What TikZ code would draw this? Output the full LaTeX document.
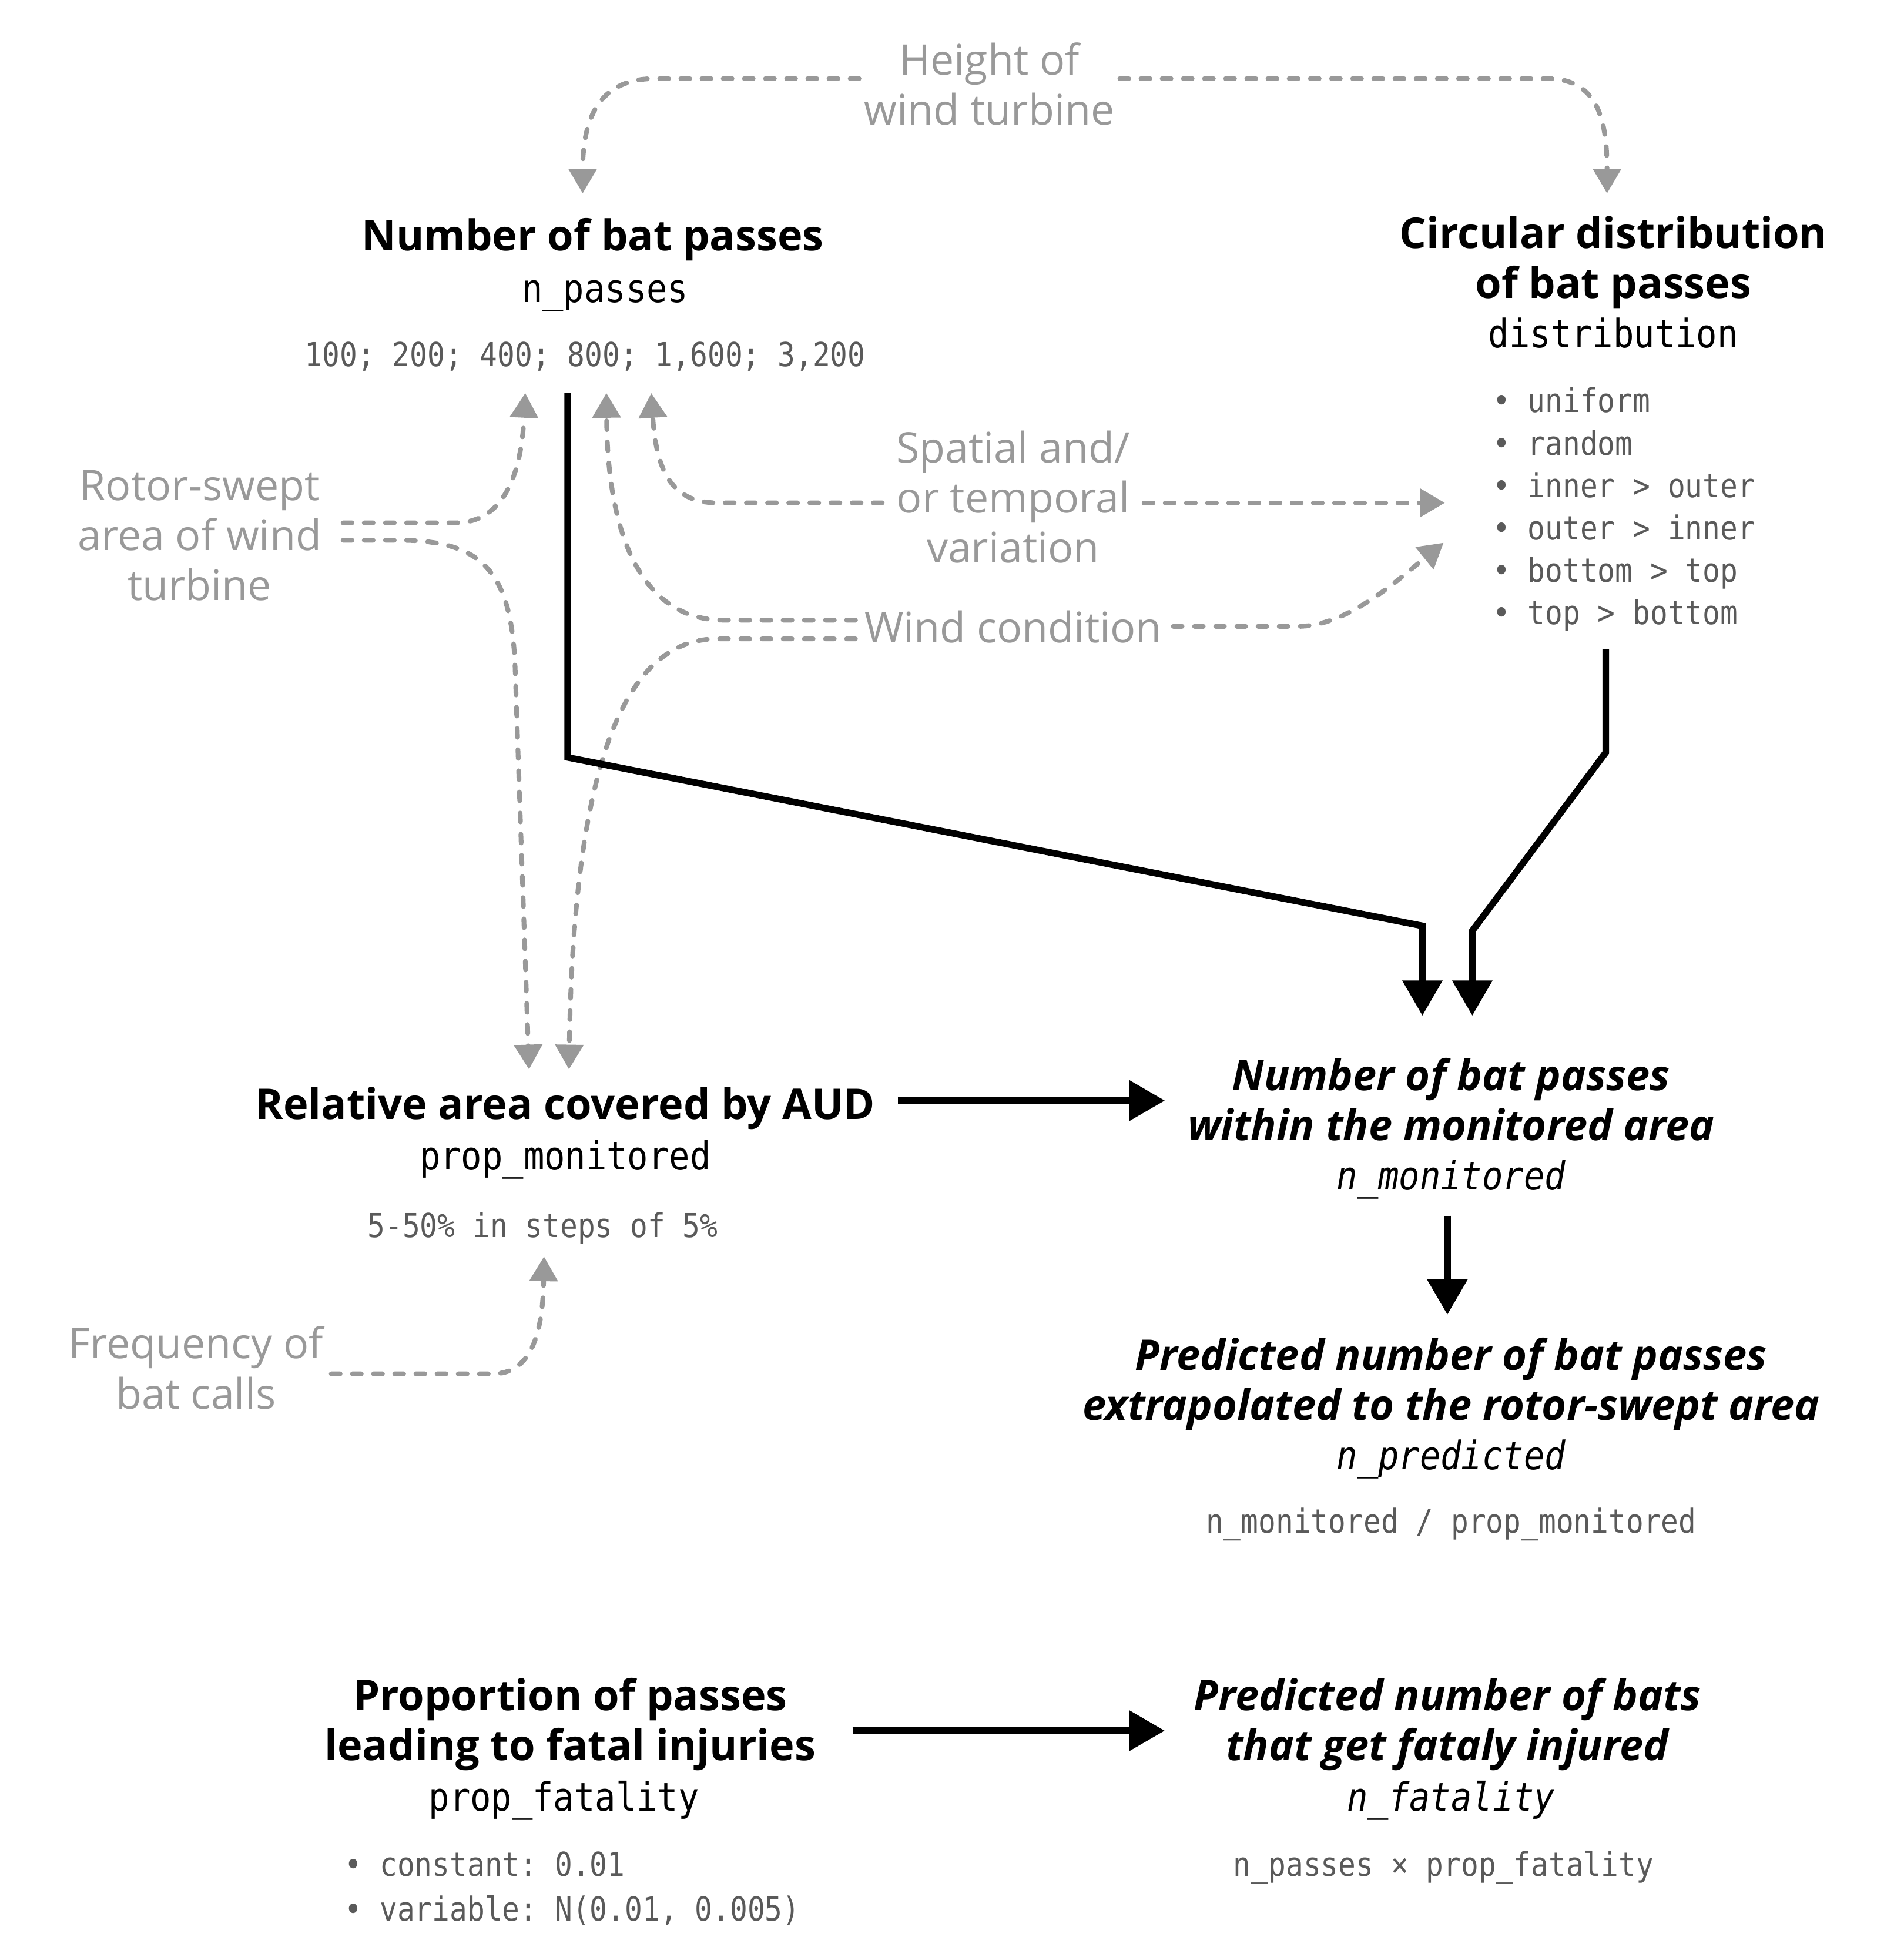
\documentclass[tikz,border=0pt]{standalone}
\usepackage{fontspec}
\setmainfont{Open Sans}
\setmonofont[FakeStretch=0.88]{DejaVu Sans Mono}
\usetikzlibrary{arrows.meta,calc}

\definecolor{facgrey}{HTML}{999999}
\definecolor{valgrey}{HTML}{5A5A5A}

\tikzset{
  ttl/.style={font=\fontsize{20.5}{24.2}\selectfont\bfseries, align=center, inner sep=0pt, text depth=0pt},
  outc/.style={font=\fontsize{20.5}{24.2}\selectfont\bfseries\itshape, align=center, inner sep=0pt, text depth=0pt},
  var/.style={font=\fontsize{19}{23}\selectfont\ttfamily, inner sep=0pt, anchor=mid, yshift=-0.13cm},
  ovar/.style={font=\fontsize{19}{23}\selectfont\ttfamily\itshape, inner sep=0pt, anchor=mid, yshift=-0.13cm},
  vals/.style={font=\fontsize{16}{20.5}\selectfont\ttfamily, text=valgrey, inner sep=0pt, anchor=mid, yshift=-0.11cm},
  fac/.style={font=\fontsize{20.4}{24.2}\selectfont, text=facgrey, align=center, inner sep=0pt, text depth=0pt},
  dep/.style={draw=facgrey, line width=2.3pt, line cap=round, dash pattern=on 0.15cm off 0.21cm,
    -{Triangle[width=0.47cm,length=0.42cm]}},
  flow/.style={draw=black, line width=3.2pt, -{Triangle[width=0.66cm,length=0.6cm]}},
}

\begin{document}
\begin{tikzpicture}[x=0.0212319cm, y=-0.0212319cm]
    \useasboundingbox (0,0) rectangle (1526,1568.4);

    % influencing factors
    \node[fac] (height) at (793,67) {Height of\\wind turbine};
    \node[fac] (rotor) at (160,429) {Rotor-swept\\area of wind\\turbine};
    \node[fac] (spatial) at (812,398) {Spatial and/\\or temporal\\variation};
    \node[fac] (wind) at (812,502) {Wind condition};
    \node[fac] (freq) at (157,1096) {Frequency of\\bat calls};

    % number of passes
    \node[ttl] (npass-ttl) at (475,188) {Number of bat passes};
    \node[var] (npass-var) at (485,232) {n\_passes};
    \node[vals] (npass-val) at (469,284) {100; 200; 400; 800; 1,600; 3,200};

    % distribution
    \node[ttl] (dist-ttl) at (1293,206) {Circular distribution\\of bat passes};
    \node[var] (dist-var) at (1293,268) {distribution};
    \foreach \opt [count=\i] in {uniform, random, inner > outer, outer > inner, bottom > top, top > bottom}
        \node[vals, anchor=mid west] (dist-\i) at (1196,{321+(\i-1)*34}) {• \opt};

    % monitored area
    \node[ttl] (rel-ttl) at (453,884) {Relative area covered by AUD};
    \node[var] (rel-var) at (453,927) {prop\_monitored};
    \node[vals] (rel-val) at (435,982) {5-50\% in steps of 5\%};

    \node[outc] (mon-ttl) at (1163,881) {Number of bat passes\\within the monitored area};
    \node[ovar] (mon-var) at (1163,943) {n\_monitored};

    \node[outc] (pred-ttl) at (1163,1105) {Predicted number of bat passes\\extrapolated to the rotor-swept area};
    \node[ovar] (pred-var) at (1163,1167) {n\_predicted};
    \node[vals] (pred-val) at (1163,1219) {n\_monitored / prop\_monitored};

    % fatalities
    \node[ttl] (prop-ttl) at (457,1378) {Proportion of passes\\leading to fatal injuries};
    \node[var] (prop-var) at (452,1441) {prop\_fatality};
    \node[vals, anchor=mid west] (prop-val1) at (276,1494) {• constant: 0.01};
    \node[vals, anchor=mid west] (prop-val2) at (276,1530) {• variable: N(0.01, 0.005)};

    \node[outc] (fat-ttl) at (1160,1378) {Predicted number of bats\\that get fataly injured};
    \node[ovar] (fat-var) at (1163,1441) {n\_fatality};
    \node[vals] (fat-val) at (1157,1494) {n\_passes × prop\_fatality};

    % arrow ends
    \coordinate (npass-top) at (467,155);
    \coordinate (dist-top) at (1288,155);
    \coordinate (npass-in1) at (421,315);
    \coordinate (npass-in2) at (486,315);
    \coordinate (npass-in3) at (522,315);
    \coordinate (dist-in1) at (1158,403);
    \coordinate (dist-in2) at (1157,435);
    \coordinate (rel-in1) at (424,857);
    \coordinate (rel-in2) at (456,857);
    \coordinate (relval-in) at (436,1007);
    \coordinate (npass-out) at (455,315);
    \coordinate (dist-out) at (1287,520);
    \coordinate (mon-in1) at (1140,814);
    \coordinate (mon-in2) at (1180,814);

    % dashed influences
    \draw[dep] ([shift={(-4,-4)}]height.west) -- (525,63) .. controls (480,63) and (467,95) .. (npass-top);
    \draw[dep] ([shift={(4,-4)}]height.east) -- (1240,63) .. controls (1280,63) and (1288,95) .. (dist-top);
    \draw[dep] ([shift={(17,-10)}]rotor.east) -- (365,419) .. controls (395,419) and (417,395) .. (npass-in1);
    \draw[dep] ([shift={(17,4)}]rotor.east) -- (320,433) .. controls (387,433) and (411,458) .. (413,540) -- (rel-in1);
    \draw[dep] ([shift={(-11,5)}]spatial.west) -- (575,403) .. controls (540,403) and (526,380) .. (npass-in3);
    \draw[dep] ([shift={(11,5)}]spatial.east) -- (dist-in1);
    \draw[dep] ([shift={(-7,-5)}]wind.west) -- (580,497) .. controls (520,497) and (487,440) .. (npass-in2);
    \draw[dep] ([shift={(-7,10)}]wind.west) -- (575,512) .. controls (505,512) and (460,600) .. (rel-in2);
    \draw[dep] ([shift={(9,0)}]wind.east) -- (1040,502) .. controls (1080,502) and (1120,465) .. (dist-in2);
    \draw[dep] ([shift={(6,5)}]freq.east) -- (395,1101) .. controls (425,1101) and (435,1070) .. (relval-in);

    % model flow
    \draw[flow] (npass-out) -- (455,607) -- (1140,742) -- (mon-in1);
    \draw[flow] (dist-out) -- (1287,603) -- (1180,746) -- (mon-in2);
    \draw[flow] ($(rel-ttl.east)+(18,-2)$) -- ($(rel-ttl.east -| mon-ttl.west)+(-18,-2)$);
    \draw[flow] ($(mon-var.south)+(-3,13)$) -- ($(mon-var.south |- pred-ttl.north)+(-3,-18)$);
    \draw[flow] ($(prop-ttl.east)+(29,9)$) -- ($(prop-ttl.east -| fat-ttl.west)+(-23,9)$);
\end{tikzpicture}
\end{document}
